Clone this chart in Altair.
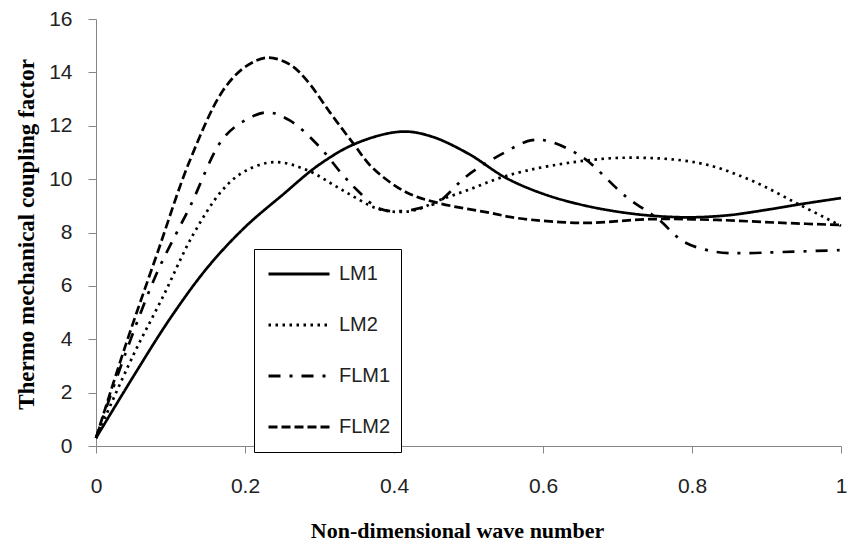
import altair as alt
import pandas as pd

series_names = ["LM1", "LM2", "FLM1", "FLM2"]

lm1_x = [0, 0.05, 0.1, 0.15, 0.2, 0.25, 0.3, 0.35, 0.41, 0.45, 0.5, 0.55, 0.6, 0.65, 0.7, 0.75, 0.8, 0.85, 0.9, 0.95, 1.0]
lm1_y = [0.3, 2.6, 4.8, 6.7, 8.2, 9.4, 10.55, 11.35, 11.78, 11.6, 10.95, 10.05, 9.45, 9.05, 8.78, 8.62, 8.57, 8.65, 8.85, 9.08, 9.29]

lm2_x = [0, 0.05, 0.09, 0.13, 0.17, 0.2, 0.24, 0.283, 0.33, 0.377, 0.405, 0.43, 0.46, 0.5, 0.546, 0.61, 0.707, 0.81, 0.878, 0.945, 1.0]
lm2_y = [0.3, 3.4, 5.6, 7.9, 9.6, 10.3, 10.64, 10.34, 9.6, 8.9, 8.77, 8.85, 9.2, 9.6, 10.08, 10.5, 10.8, 10.6, 9.97, 9.03, 8.25]

flm1_x = [0, 0.04, 0.082, 0.126, 0.17, 0.2, 0.23, 0.26, 0.297, 0.33, 0.35, 0.38, 0.41, 0.44, 0.46, 0.497, 0.542, 0.585, 0.61, 0.654, 0.712, 0.753, 0.79, 0.833, 0.869, 0.922, 1.0]
flm1_y = [0.3, 3.5, 6.5, 8.96, 11.5, 12.2, 12.5, 12.2, 11.3, 10.2, 9.6, 8.9, 8.8, 8.95, 9.15, 10.1, 10.9, 11.46, 11.4, 10.8, 9.33, 8.54, 7.64, 7.27, 7.23, 7.27, 7.34]

flm2_x = [0, 0.04, 0.082, 0.126, 0.17, 0.2, 0.23, 0.26, 0.283, 0.314, 0.345, 0.372, 0.417, 0.46, 0.53, 0.565, 0.654, 0.744, 0.833, 0.922, 1.0]
flm2_y = [0.3, 3.8, 7.2, 10.7, 13.3, 14.2, 14.55, 14.3, 13.7, 12.5, 11.35, 10.4, 9.5, 9.1, 8.73, 8.54, 8.36, 8.5, 8.47, 8.36, 8.28]

x_ticks = [0, 0.2, 0.4, 0.6, 0.8, 1.0]
y_ticks = [0, 2, 4, 6, 8, 10, 12, 14, 16]

frames = []
for name, xs, ys in [("LM1", lm1_x, lm1_y), ("LM2", lm2_x, lm2_y),
                     ("FLM1", flm1_x, flm1_y), ("FLM2", flm2_x, flm2_y)]:
    frames.append(pd.DataFrame({"series": name, "k": xs, "v": ys}))
df = pd.concat(frames, ignore_index=True)

dash_range = [[1, 0], [2.5, 4.5], [12, 9, 3, 9], [9, 4]]

chart = alt.Chart(df).mark_line(
    interpolate="catmull-rom", color="black", strokeWidth=2.7
).encode(
    x=alt.X("k:Q",
            scale=alt.Scale(domain=[0, 1], nice=False),
            axis=alt.Axis(values=x_ticks, format=".1~f", grid=False,
                          title="Non-dimensional wave number",
                          tickSize=7, labelPadding=22, labelFlush=False,
                          titleX=361, titleY=91, titleBaseline="alphabetic",
                          titleAlign="center", titleFontSize=22)),
    y=alt.Y("v:Q",
            scale=alt.Scale(domain=[0, 16], nice=False),
            axis=alt.Axis(values=y_ticks, format="d", grid=False,
                          title="Thermo mechanical coupling factor",
                          tickSize=8, labelPadding=16, labelFlush=False,
                          titleAngle=270, titleX=-63, titleY=215,
                          titleBaseline="alphabetic", titleAlign="center",
                          titleFontSize=23)),
    strokeDash=alt.StrokeDash(
        "series:N",
        scale=alt.Scale(domain=series_names, range=dash_range),
        legend=alt.Legend(
            orient="none", legendX=158, legendY=230, title=None,
            symbolType="stroke", symbolSize=3721, symbolStrokeWidth=3,
            symbolStrokeColor="black", strokeColor="black", fillColor="white",
            padding=10, labelFontSize=20, labelFont="Liberation Sans",
            labelColor="#222222", clipHeight=30, rowPadding=21,
            symbolOffset=3, labelOffset=8,
        ),
    ),
    detail="series:N",
).properties(
    width=745, height=427,
    autosize=alt.AutoSizeParams(type="none"),
    padding={"left": 96, "top": 19, "right": 6, "bottom": 96},
).configure_view(
    strokeWidth=0
).configure_axis(
    domainColor="#868686", tickColor="#868686", domainWidth=1, tickWidth=1,
    labelFont="Liberation Sans", labelFontSize=21, labelColor="#222222",
    titleFont="Liberation Serif", titleFontWeight="bold", titleColor="black",
)

chart.save("out.html", embed_options={"renderer": "svg", "actions": False})
